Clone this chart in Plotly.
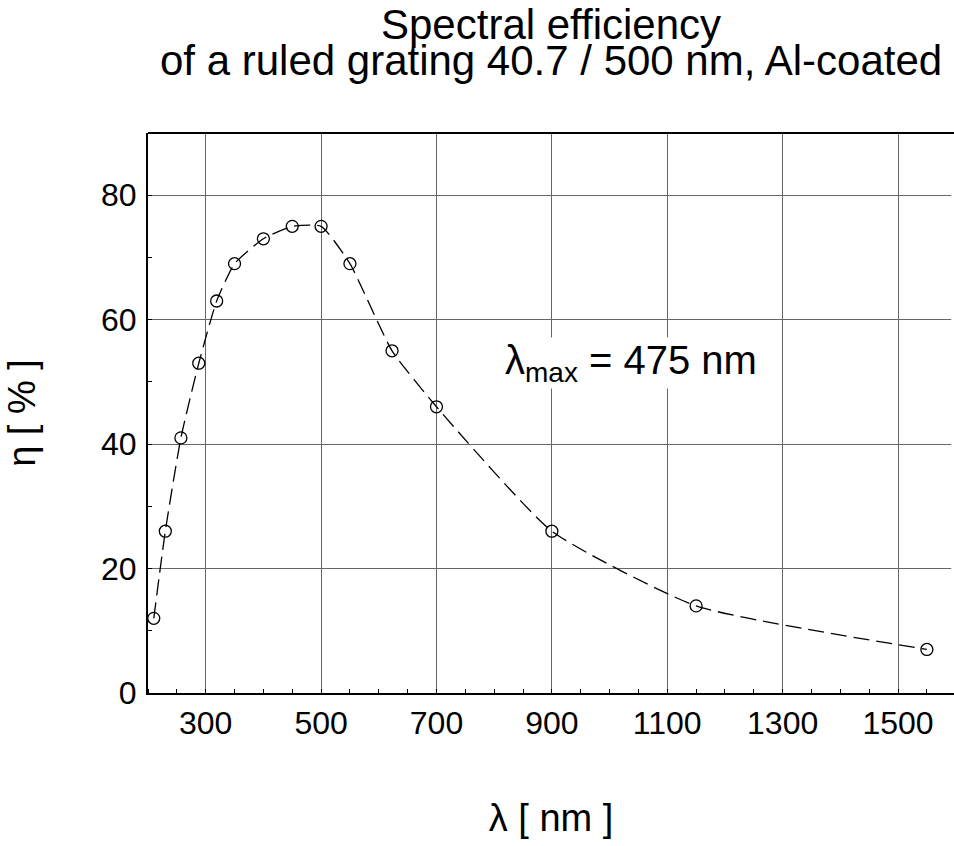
import plotly.graph_objects as go

wavelength_nm = [210, 230, 257, 288, 319, 350, 400, 450, 500, 550, 623, 700, 900, 1150, 1550]
efficiency_pct = [12, 26, 41, 53, 63, 69, 73, 75, 75, 69, 55, 46, 26, 14, 7]

x_ticks = [300, 500, 700, 900, 1100, 1300, 1500]
y_ticks = [0, 20, 40, 60, 80]

title_lines = ["Spectral efficiency", "of a ruled grating 40.7 / 500 nm, Al-coated"]

FONT = "Liberation Sans, Arial, sans-serif"

fig = go.Figure()
fig.add_trace(go.Scatter(
    x=wavelength_nm, y=efficiency_pct,
    mode="lines+markers",
    line=dict(color="black", width=1.3, dash="16px,7px", shape="spline", smoothing=0.5),
    marker=dict(symbol="circle-open", size=12, color="black", line=dict(width=1.3, color="black")),
    showlegend=False,
))

fig.add_annotation(
    x=1037, y=53, xref="x", yref="y",
    text="λ<sub>max</sub> = 475 nm",
    showarrow=False,
    font=dict(family=FONT, size=40, color="black"),
    bgcolor="white", borderpad=0,
)

# two-line title drawn as annotations for tight line spacing
fig.add_annotation(x=0.5, y=1.193, xref="paper", yref="paper", text=title_lines[0],
                   showarrow=False, xanchor="center", yanchor="middle",
                   font=dict(family=FONT, size=42, color="black"))
fig.add_annotation(x=0.5, y=1.1286, xref="paper", yref="paper", text=title_lines[1],
                   showarrow=False, xanchor="center", yanchor="middle",
                   font=dict(family=FONT, size=42, color="black"))

# top frame line (no right-hand border in the reference)
fig.add_shape(type="line", xref="paper", yref="paper", x0=0, x1=1, y0=1, y1=1,
              line=dict(color="black", width=2), layer="above")
# keep the right edge of the plot area open, as in the reference
fig.add_shape(type="rect", xref="paper", yref="paper", x0=0.9965, x1=1.0, y0=0.004, y1=0.996,
              line=dict(width=0), fillcolor="white", layer="above")

fig.update_layout(
    width=954, height=846,
    paper_bgcolor="white", plot_bgcolor="white",
    margin=dict(l=148, r=0, t=133, b=153),
    font=dict(family=FONT, color="black"),
)

fig.update_xaxes(
    range=[200, 1597],
    tickvals=x_ticks, ticktext=[str(v) for v in x_ticks],
    showgrid=True, gridcolor="#666666", gridwidth=1,
    zeroline=False,
    showline=True, linecolor="black", linewidth=2, mirror=False,
    ticks="outside", ticklen=0,
    minor=dict(dtick=50, tick0=0, ticks="inside", ticklen=4, tickcolor="black", showgrid=False),
    tickfont=dict(family=FONT, size=32, color="black"),
    ticklabelstandoff=1,
    title=dict(text="λ [ nm ]", font=dict(family=FONT, size=38, color="black"), standoff=64),
)
fig.update_yaxes(
    range=[0, 90],
    tickvals=y_ticks, ticktext=[str(v) for v in y_ticks],
    showgrid=True, gridcolor="#666666", gridwidth=1,
    zeroline=False,
    showline=True, linecolor="black", linewidth=2, mirror=False,
    ticks="outside", ticklen=0,
    minor=dict(dtick=10, tick0=0, ticks="inside", ticklen=4, tickcolor="black", showgrid=False),
    tickfont=dict(family=FONT, size=32, color="black"),
    ticklabelstandoff=3,
    title=dict(text="η [ % ]", font=dict(family=FONT, size=38, color="black"), standoff=54),
)

fig.write_html(
    "out.html",
    config={"displayModeBar": False},
    post_script="document.body.style.margin='0';document.body.style.overflow='hidden';",
)
